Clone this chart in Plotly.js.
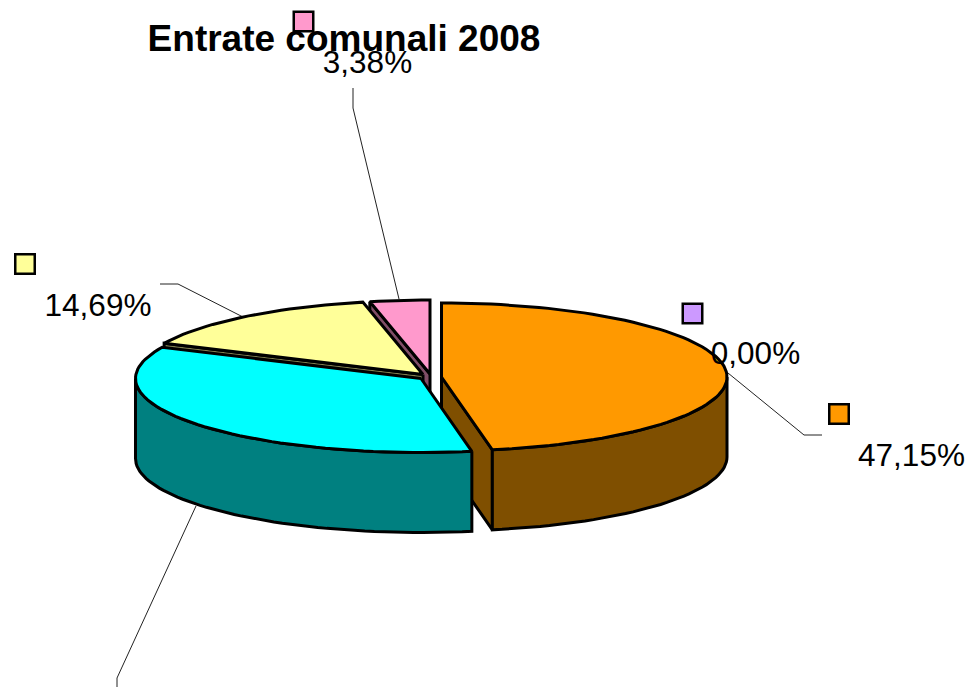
<!DOCTYPE html>
<html>
<head>
<meta charset="utf-8">
<script src="https://cdn.plot.ly/plotly-3.0.1.min.js"></script>
<style>html,body{margin:0;padding:0;background:#fff}#chart{width:968px;height:687px}</style>
</head>
<body>
<div id="chart"></div>
<script>
// Data (percent shares, clockwise from 12 o'clock)
var sliceNames = ["Arancio", "Viola", "Ciano", "Giallo", "Rosa"];
var sliceValues = [47.15, 0.00, 34.78, 14.69, 3.38];
var chartTitle = "Entrate comunali 2008";

// Styles
var topColors  = ["#FF9900", "#CC99FF", "#00FFFF", "#FFFF99", "#FF99CC"];
var sideColors = ["#7F4F00", "#664C80", "#008080", "#808050", "#804D66"];

// Pie geometry (exploded centres in pixel-space axes)
var RX = 285.5, RY = 74, DEPTH = 80;
var centres = [[441.5,377],[441.5,377],[421,378.5],[423,374.5],[430,374]];

// Label and swatch placement, index matches slices (cyan's falls off the page)
var swatchX = [839, 692.5, null, 25, 303.5];
var swatchY = [414, 313.5, null, 264, 21.5];
var labelX  = [911.5, 755.5, null, 98, 367.5];
var labelY  = [458, 356, null, 308, 65];
var leaders = [
  {x:[728,804,822], y:[373,435,435]},
  {x:[196,117,117], y:[506,678,687]},
  {x:[160,178,243], y:[284,284,317]},
  {x:[353,353,399], y:[88,108,299]}
];

function pt(c, deg, dz){
  var r = deg*Math.PI/180;
  return [c[0]+RX*Math.sin(r), c[1]-RY*Math.cos(r)+(dz||0)];
}
function arc(c, a, b, dz){
  var out = [], n = Math.max(2, Math.ceil(Math.abs(b-a)/2));
  for (var i=0;i<=n;i++) out.push(pt(c, a+(b-a)*i/n, dz));
  return out;
}
function poly(pts, fill){
  var xs = pts.map(function(p){return p[0];}), ys = pts.map(function(p){return p[1];});
  xs.push(xs[0]); ys.push(ys[0]);
  return {type:"scatter", mode:"lines", x:xs, y:ys, fill:"toself", fillcolor:fill,
          line:{color:"#000", width:3, shape:"linear"}, hoverinfo:"skip", showlegend:false};
}

// Angles from values
var total = sliceValues.reduce(function(a,b){return a+b;},0), run = 0;
var angles = sliceValues.map(function(v){
  var s = run/total*360; run += v; return [s, run/total*360];
});

function topFace(i){
  var c = centres[i];
  return poly([c].concat(arc(c, angles[i][0], angles[i][1], 0)), topColors[i]);
}
function cutFace(i, deg){
  var c = centres[i], p = pt(c, deg, 0);
  return poly([c, p, [p[0],p[1]+DEPTH], [c[0],c[1]+DEPTH]], sideColors[i]);
}
function outerWall(i){
  var a = Math.max(angles[i][0], 90), b = Math.min(angles[i][1], 270), c = centres[i];
  return poly(arc(c, a, b, 0).concat(arc(c, b, a, DEPTH)), sideColors[i]);
}

var traces = [];
leaders.forEach(function(l){
  traces.push({type:"scatter", mode:"lines", x:l.x, y:l.y, line:{color:"#222", width:1},
               hoverinfo:"skip", showlegend:false});
});
// back to front: pink, yellow, orange, cyan
traces.push(cutFace(4, angles[4][0]), topFace(4));
traces.push(cutFace(3, angles[3][0]), topFace(3));
traces.push(cutFace(0, angles[0][1]), outerWall(0), topFace(0));
traces.push(outerWall(2), topFace(2));

traces.push({type:"scatter", mode:"markers", x:swatchX, y:swatchY,
  marker:{symbol:"square", size:19.5, color:topColors, line:{color:"#000", width:2.5}},
  hoverinfo:"skip", showlegend:false});
traces.push({type:"scatter", mode:"text", x:labelX, y:labelY,
  text:sliceValues.map(function(v){return v.toFixed(2).replace(".",",")+"%";}),
  textposition:"middle center",
  textfont:{family:"Liberation Sans, Arial, sans-serif", size:31.5, color:"#000"},
  hoverinfo:"skip", showlegend:false});

var layout = {
  width:968, height:687, margin:{l:0,r:0,t:0,b:0},
  paper_bgcolor:"#fff", plot_bgcolor:"#fff", showlegend:false,
  title:{text:"<b>"+chartTitle+"</b>", x:344/968, xref:"paper", xanchor:"center",
         y:1-38/687, yref:"container", yanchor:"middle",
         font:{family:"Liberation Sans, Arial, sans-serif", size:37, color:"#000"}},
  xaxis:{range:[0,968], visible:false, fixedrange:true},
  yaxis:{range:[687,0], visible:false, fixedrange:true}
};
Plotly.newPlot("chart", traces, layout, {displayModeBar:false, staticPlot:true});
</script>
</body>
</html>
